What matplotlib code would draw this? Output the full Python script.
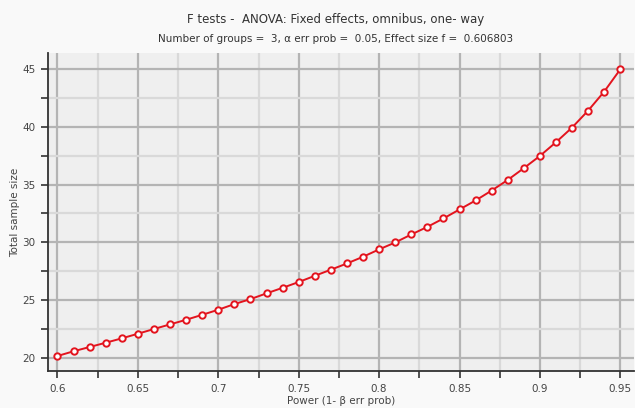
import numpy as np
import matplotlib.pyplot as plt
from matplotlib.ticker import MultipleLocator

# Power (1-beta) on x, total sample size on y
power = [0.60, 0.61, 0.62, 0.63, 0.64, 0.65, 0.66, 0.67, 0.68, 0.69,
         0.70, 0.71, 0.72, 0.73, 0.74, 0.75, 0.76, 0.77, 0.78, 0.79,
         0.80, 0.81, 0.82, 0.83, 0.84, 0.85, 0.86, 0.87, 0.88, 0.89,
         0.90, 0.91, 0.92, 0.93, 0.94, 0.95]
sample_size = [20.14, 20.55, 20.92, 21.29, 21.67, 22.07, 22.48, 22.88, 23.28, 23.71,
               24.15, 24.64, 25.07, 25.57, 26.05, 26.55, 27.09, 27.62, 28.16, 28.74,
               29.38, 29.98, 30.67, 31.33, 32.06, 32.84, 33.62, 34.48, 35.40, 36.42,
               37.48, 38.67, 39.94, 41.41, 43.06, 44.99]
x_ticks = [0.6, 0.65, 0.7, 0.75, 0.8, 0.85, 0.9, 0.95]
x_labels = ["0.6", "0.65", "0.7", "0.75", "0.8", "0.85", "0.9", "0.95"]
y_ticks = [20, 25, 30, 35, 40, 45]

plt.rcParams['font.family'] = ['DejaVu Sans']

fig = plt.figure(figsize=(6.35, 4.08), dpi=100)
fig.patch.set_facecolor('#f9f9f9')
W, H = 635, 408
ax = fig.add_axes([48 / W, 1 - 371 / H, (634 - 48) / W, (371 - 53) / H])
ax.set_facecolor('#efefef')

ax.plot(power, sample_size, color='#e3141e', lw=1.4, marker='o', ms=4.6,
        mfc='white', mec='#e3141e', mew=1.4, zorder=3)

ax.set_xlim(0.5941, 0.9585)
ax.set_ylim(18.84, 46.4)

ax.set_xticks(x_ticks)
ax.set_xticklabels(x_labels)
ax.set_yticks(y_ticks)
ax.xaxis.set_minor_locator(MultipleLocator(0.025))
ax.yaxis.set_minor_locator(MultipleLocator(2.5))

# сетка: основная темнее, дополнительная светлее
ax.grid(which='major', color='#b4b4b4', lw=1.6)
ax.grid(which='minor', color='#d9d9d9', lw=1.6)
ax.set_axisbelow(True)

for s in ['top', 'right']:
    ax.spines[s].set_visible(False)
for s in ['left', 'bottom']:
    ax.spines[s].set_color('#333333')
    ax.spines[s].set_linewidth(1.3)

ax.tick_params(which='both', direction='out', color='#333333', width=1.2,
               labelsize=7.5, labelcolor='#444444')
ax.tick_params(which='major', length=5, pad=4)
ax.tick_params(which='minor', length=5)

# подписи осей
fig.text(341 / W, 2 / H, 'Power (1- β err prob)', ha='center', va='bottom',
         fontsize=7.5, color='#444444')
fig.text(15 / W, 1 - 212 / H, 'Total sample size', ha='center', va='center',
         rotation=90, fontsize=7.5, color='#444444')

fig.text(0.528, 1 - 19 / H, 'F tests -  ANOVA: Fixed effects, omnibus, one- way',
         ha='center', va='center', fontsize=8.5, color='#333333')
fig.text(0.528, 1 - 39 / H, 'Number of groups =  3, α err prob =  0.05, Effect size f =  0.606803',
         ha='center', va='center', fontsize=7.5, color='#333333')

fig.savefig('out.png', dpi=100, facecolor=fig.get_facecolor())
